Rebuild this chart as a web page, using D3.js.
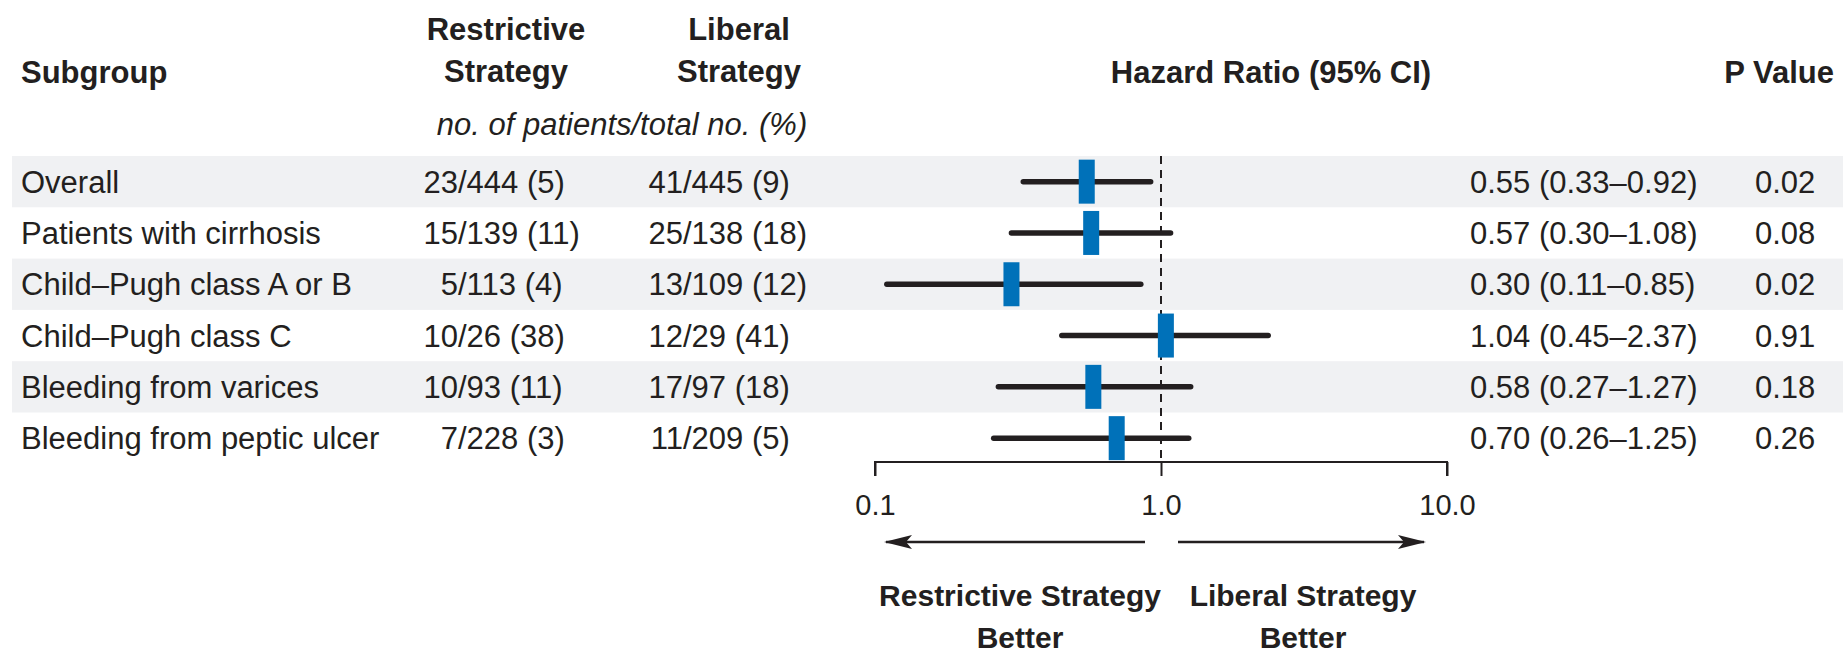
<!DOCTYPE html>
<html>
<head>
<meta charset="utf-8">
<script src="https://cdn.jsdelivr.net/npm/d3@7"></script>
<style>
  html, body { margin: 0; padding: 0; background: #fff; }
  svg { display: block; }
  text { font-family: "Liberation Sans", Arial, sans-serif; fill: #231f20; }
</style>
</head>
<body>
<svg id="chart" width="1847" height="653"></svg>
<script>
// Subgroup forest plot: restrictive vs liberal transfusion strategy
const subgroups = [
  "Overall",
  "Patients with cirrhosis",
  "Child\u2013Pugh class A or B",
  "Child\u2013Pugh class C",
  "Bleeding from varices",
  "Bleeding from peptic ulcer"
];
const restrictiveEvents = [23, 15, 5, 10, 10, 7];
const restrictiveTotal  = [444, 139, 113, 26, 93, 228];
const restrictivePct    = [5, 11, 4, 38, 11, 3];
const liberalEvents = [41, 25, 13, 12, 17, 11];
const liberalTotal  = [445, 138, 109, 29, 97, 209];
const liberalPct    = [9, 18, 12, 41, 18, 5];
const hazardRatio = [0.55, 0.57, 0.30, 1.04, 0.58, 0.70];
const ciLower     = [0.33, 0.30, 0.11, 0.45, 0.27, 0.26];
const ciUpper     = [0.92, 1.08, 0.85, 2.37, 1.27, 1.25];
const pValues     = ["0.02", "0.08", "0.02", "0.91", "0.18", "0.26"];
const axisTicks   = [0.1, 1.0, 10.0];

const svg = d3.select("#chart");
const fmt2 = d3.format(".2f");

// layout
const rowTop = 156, rowH = 51.3;
const bandX0 = 12, bandX1 = 1843;
const colSub = 21, colRestSlash = 458, colLibSlash = 683;
const colHR = 1470, colP = 1755;
const bodySize = 31, headSize = 31, footSize = 30;

const x = d3.scaleLog().domain([0.1, 10]).range([875, 1447]);
const y = d3.scaleBand().domain(d3.range(subgroups.length))
  .range([rowTop, rowTop + rowH * subgroups.length]).padding(0);
const axisY = 462;

// alternating row bands
svg.append("g").selectAll("rect")
  .data(d3.range(subgroups.length).filter(i => i % 2 === 0))
  .join("rect")
  .attr("x", bandX0).attr("width", bandX1 - bandX0)
  .attr("y", i => y(i)).attr("height", y.bandwidth())
  .attr("fill", "#f0f1f3");

// column headers
const head = svg.append("g").attr("font-weight", "bold").attr("font-size", headSize);
head.append("text").attr("x", colSub).attr("y", 83).text("Subgroup");
head.append("text").attr("x", 506).attr("y", 40).attr("text-anchor", "middle").text("Restrictive");
head.append("text").attr("x", 506).attr("y", 82).attr("text-anchor", "middle").text("Strategy");
head.append("text").attr("x", 739).attr("y", 40).attr("text-anchor", "middle").text("Liberal");
head.append("text").attr("x", 739).attr("y", 82).attr("text-anchor", "middle").text("Strategy");
head.append("text").attr("x", 1271).attr("y", 83).attr("text-anchor", "middle").text("Hazard Ratio (95% CI)");
head.append("text").attr("x", 1834).attr("y", 83).attr("text-anchor", "end").text("P Value");
svg.append("text").attr("x", 622).attr("y", 135).attr("text-anchor", "middle")
  .attr("font-style", "italic").attr("font-size", 31)
  .text("no. of patients/total no. (%)");

// table rows
const rows = svg.append("g").attr("font-size", bodySize)
  .selectAll("g").data(subgroups).join("g")
  .attr("transform", (d, i) => `translate(0,${y(i) + y.bandwidth() / 2 + 11})`);

rows.append("text").attr("x", colSub).text(d => d);
rows.append("text").attr("x", colRestSlash).attr("text-anchor", "end")
  .text((d, i) => restrictiveEvents[i]);
rows.append("text").attr("x", colRestSlash)
  .text((d, i) => `/${restrictiveTotal[i]} (${restrictivePct[i]})`);
rows.append("text").attr("x", colLibSlash).attr("text-anchor", "end")
  .text((d, i) => liberalEvents[i]);
rows.append("text").attr("x", colLibSlash)
  .text((d, i) => `/${liberalTotal[i]} (${liberalPct[i]})`);
rows.append("text").attr("x", colHR)
  .text((d, i) => `${fmt2(hazardRatio[i])} (${fmt2(ciLower[i])}\u2013${fmt2(ciUpper[i])})`);
rows.append("text").attr("x", colP).text((d, i) => pValues[i]);

// reference line at HR = 1
svg.append("line")
  .attr("x1", x(1)).attr("x2", x(1))
  .attr("y1", rowTop).attr("y2", axisY)
  .attr("stroke", "#231f20").attr("stroke-width", 2)
  .attr("stroke-dasharray", "8,6");

// confidence intervals and point estimates
const marks = svg.append("g").selectAll("g").data(subgroups).join("g");
marks.append("line")
  .attr("x1", (d, i) => x(ciLower[i])).attr("x2", (d, i) => x(ciUpper[i]))
  .attr("y1", (d, i) => y(i) + y.bandwidth() / 2)
  .attr("y2", (d, i) => y(i) + y.bandwidth() / 2)
  .attr("stroke", "#231f20").attr("stroke-width", 5.5).attr("stroke-linecap", "round");
const boxW = 16, boxH = 44;
marks.append("rect")
  .attr("x", (d, i) => x(hazardRatio[i]) - boxW / 2)
  .attr("y", (d, i) => y(i) + y.bandwidth() / 2 - boxH / 2)
  .attr("width", boxW).attr("height", boxH)
  .attr("fill", "#0071b9");

// log axis
const axis = d3.axisBottom(x).tickValues(axisTicks).tickSize(14).tickPadding(18)
  .tickFormat(d3.format(".1f"));
const gAxis = svg.append("g").attr("transform", `translate(0,${axisY})`).call(axis);
gAxis.select(".domain").attr("stroke", "#231f20").attr("stroke-width", 2)
  .attr("d", `M${x(0.1)},14V0H${x(10)}V14`);
gAxis.selectAll(".tick line").attr("stroke", "#231f20").attr("stroke-width", 2);
gAxis.selectAll(".tick text")
  .attr("font-family", "'Liberation Serif', 'Times New Roman', serif")
  .attr("font-size", 29).attr("fill", "#231f20");

// direction arrows
const defs = svg.append("defs");
defs.append("marker").attr("id", "arrowhead")
  .attr("viewBox", "0 0 28 14").attr("refX", 26).attr("refY", 7)
  .attr("markerWidth", 28).attr("markerHeight", 14)
  .attr("markerUnits", "userSpaceOnUse").attr("orient", "auto")
  .append("path").attr("d", "M0,0L28,7L0,14L6,7Z").attr("fill", "#231f20");
const arrowY = 542;
svg.append("line").attr("x1", 1145).attr("x2", 886).attr("y1", arrowY).attr("y2", arrowY)
  .attr("stroke", "#231f20").attr("stroke-width", 2.5).attr("marker-end", "url(#arrowhead)");
svg.append("line").attr("x1", 1178).attr("x2", 1424).attr("y1", arrowY).attr("y2", arrowY)
  .attr("stroke", "#231f20").attr("stroke-width", 2.5).attr("marker-end", "url(#arrowhead)");

const foot = svg.append("g").attr("font-weight", "bold").attr("font-size", footSize)
  .attr("text-anchor", "middle");
foot.append("text").attr("x", 1020).attr("y", 606).text("Restrictive Strategy");
foot.append("text").attr("x", 1020).attr("y", 648).text("Better");
foot.append("text").attr("x", 1303).attr("y", 606).text("Liberal Strategy");
foot.append("text").attr("x", 1303).attr("y", 648).text("Better");
</script>
</body>
</html>
